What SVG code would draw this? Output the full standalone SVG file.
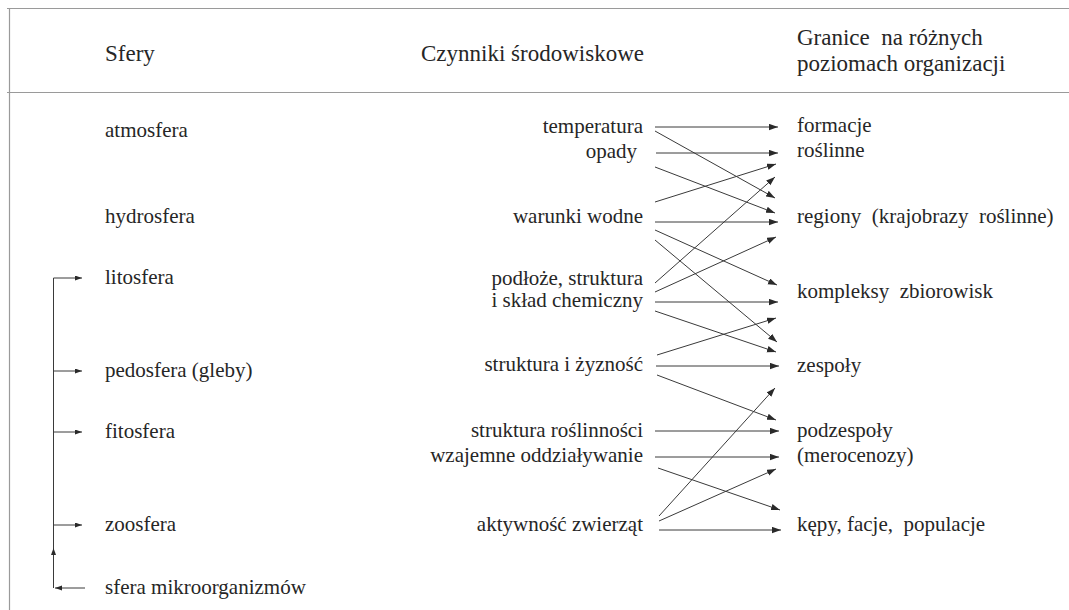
<svg xmlns="http://www.w3.org/2000/svg" width="1069" height="610" viewBox="0 0 1069 610">
<style>
text{fill:#262626;white-space:pre}
.h{font-size:23px}
.b{font-size:21px}
.e{text-anchor:end}
.frame{stroke:#9a9a9a;stroke-width:1.2;fill:none}
.c{stroke:#3a3a3a;stroke-width:1;fill:none}
</style>
<defs>
<marker id="ah" markerUnits="userSpaceOnUse" markerWidth="10" markerHeight="7" refX="9" refY="3.2" orient="auto">
<path d="M0,0 L9,3.2 L0,6.4 z" fill="#2a2a2a"/>
</marker>
<marker id="as" markerUnits="userSpaceOnUse" markerWidth="8" markerHeight="6" refX="7" refY="2.5" orient="auto">
<path d="M0,0 L7,2.5 L0,5 z" fill="#2a2a2a"/>
</marker>
</defs>
<rect width="1069" height="610" fill="#fff"/>
<g id="frame" class="frame">
<path d="M7,8.5 H1069"/>
<path d="M9.5,8 V610"/>
<path d="M7,92.5 H1069"/>
</g>
<g id="labels" font-family="Liberation Serif, DejaVu Serif, serif">
<g id="headers">
<g id="h-sfery"><text class="h" x="105" y="61">Sfery</text></g>
<g id="h-czynniki"><text class="h e" x="644" y="61">Czynniki środowiskowe</text></g>
<g id="h-granice"><text class="h" x="797" y="45">Granice  na różnych</text><text class="h" x="797" y="71">poziomach organizacji</text></g>
</g>
<g id="spheres">
<g id="atmosfera"><text class="b" x="105" y="137">atmosfera</text></g>
<g id="hydrosfera"><text class="b" x="105" y="223">hydrosfera</text></g>
<g id="litosfera"><text class="b" x="105" y="284">litosfera</text></g>
<g id="pedosfera"><text class="b" x="105" y="377">pedosfera (gleby)</text></g>
<g id="fitosfera"><text class="b" x="105" y="438">fitosfera</text></g>
<g id="zoosfera"><text class="b" x="105" y="531">zoosfera</text></g>
<g id="mikroorganizmy"><text class="b" x="105" y="594">sfera mikroorganizmów</text></g>
</g>
<g id="factors">
<g id="temperatura"><text class="b e" x="643" y="133">temperatura</text></g>
<g id="opady"><text class="b e" x="637" y="158">opady</text></g>
<g id="warunki"><text class="b e" x="643" y="223">warunki wodne</text></g>
<g id="podloze"><text class="b e" x="643" y="285">podłoże, struktura</text><text class="b e" x="643" y="307">i skład chemiczny</text></g>
<g id="zyznosc"><text class="b e" x="643" y="371">struktura i żyzność</text></g>
<g id="roslinnosc"><text class="b e" x="643" y="437">struktura roślinności</text></g>
<g id="oddzialywanie"><text class="b e" x="643" y="462">wzajemne oddziaływanie</text></g>
<g id="aktywnosc"><text class="b e" x="643" y="531">aktywność zwierząt</text></g>
</g>
<g id="levels">
<g id="formacje"><text class="b" x="797" y="132">formacje</text><text class="b" x="797" y="157">roślinne</text></g>
<g id="regiony"><text class="b" x="797" y="223">regiony  (krajobrazy  roślinne)</text></g>
<g id="kompleksy"><text class="b" x="797" y="298">kompleksy  zbiorowisk</text></g>
<g id="zespoly"><text class="b" x="797" y="372">zespoły</text></g>
<g id="podzespoly"><text class="b" x="797" y="437">podzespoły</text><text class="b" x="797" y="462">(merocenozy)</text></g>
<g id="kepy"><text class="b" x="797" y="531">kępy, facje,  populacje</text></g>
</g>
</g>
<g id="connectors">
<g class="c" marker-end="url(#ah)">
<path d="M655,127 L778,127"/>
<path d="M655,131 L775,198"/>
<path d="M656,153 L778,153"/>
<path d="M655,167 L775,213"/>
<path d="M655,202 L776,164"/>
<path d="M655,283 L775,177"/>
<path d="M655,222 L778,222"/>
<path d="M655,292 L776,237"/>
<path d="M655,230 L777,285"/>
<path d="M655,240 L777,342"/>
<path d="M655,302 L778,302"/>
<path d="M655,311 L776,352"/>
<path d="M657,355 L776,318"/>
<path d="M656,366 L779,366"/>
<path d="M657,375 L776,420"/>
<path d="M659,516 L775,388"/>
<path d="M655,431 L779,431"/>
<path d="M655,457 L779,457"/>
<path d="M658,468 L780,510"/>
<path d="M659,521 L776,469"/>
<path d="M659,530 L781,530"/>
</g>
<g class="c">
<path d="M53.5,278 V588"/>
</g>
<g class="c" marker-end="url(#as)">
<path d="M53.5,278 H82"/>
<path d="M53.5,371 H82"/>
<path d="M53.5,432 H82"/>
<path d="M53.5,525 H82"/>
<path d="M85,588 H55"/>
<path d="M53.5,560 V548"/>
</g>
</g>
</svg>
